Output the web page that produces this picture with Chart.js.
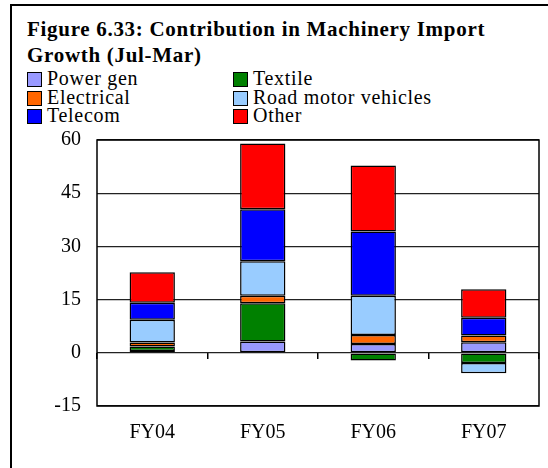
<!DOCTYPE html>
<html>
<head>
<meta charset="utf-8">
<script src="https://cdn.jsdelivr.net/npm/chart.js@4"></script>
<style>
  html, body { margin: 0; padding: 0; background: #fff; }
  body { width: 548px; height: 468px; position: relative; overflow: hidden; font-family: "Liberation Serif", "Times New Roman", serif; }
  #frame { position: absolute; left: 10px; top: 4px; width: 560px; height: 480px; border: 2px solid #000; box-sizing: border-box; }
  #title { position: absolute; left: 27px; top: 16px; font-family: "Liberation Serif", serif; font-weight: bold; font-size: 21px; line-height: 26px; letter-spacing: 0.7px; color: #000; }
  #legend { position: absolute; left: 27px; top: 70px; width: 470px; }
  .row { height: 18.5px; position: relative; }
  .item { position: absolute; top: 0; height: 18.5px; white-space: nowrap; }
  .swatch { position: absolute; left: 0; top: 2px; width: 13px; height: 13px; border: 1.5px solid #000; }
  .text { position: absolute; left: 20px; top: -3px; font-family: "Liberation Serif", "Times New Roman", serif; font-weight: normal; font-size: 20px; line-height: 22px; letter-spacing: 0.7px; color: #000; }
  #wrap { position: absolute; left: 0; top: 0; width: 548px; height: 468px; }
</style>
</head>
<body>
<div id="frame"></div>
<div id="title">Figure 6.33: Contribution in Machinery Import<br>Growth (Jul-Mar)</div>
<div id="legend"></div>
<div id="wrap"><canvas id="importChart" width="548" height="468"></canvas></div>
<script>
const years = ["FY04", "FY05", "FY06", "FY07"];

const powerGen = [0.5, 3.2, 2.5, 3.0];
const textile = [1.3, 10.8, -2.2, -2.9];
const electrical = [1.1, 2.1, 2.5, 1.9];
const roadVehicles = [6.4, 9.7, 11.1, -2.9];
const telecom = [4.8, 14.7, 18.1, 5.0];
const other = [8.6, 18.5, 18.6, 8.0];

const yTicks = [-15, 0, 15, 30, 45, 60];

const series = [
  { label: "Power gen", data: powerGen, color: "#9999ff" },
  { label: "Textile", data: textile, color: "#008000" },
  { label: "Electrical", data: electrical, color: "#ff6600" },
  { label: "Road motor vehicles", data: roadVehicles, color: "#99ccff" },
  { label: "Telecom", data: telecom, color: "#0000ff" },
  { label: "Other", data: other, color: "#ff0000" }
];

// legend: three rows of two items, in dataset order
const legend = document.getElementById("legend");
for (let r = 0; r < 3; r++) {
  const row = document.createElement("div");
  row.className = "row";
  [0, 1].forEach(c => {
    const s = series[r * 2 + c];
    const item = document.createElement("div");
    item.className = "item";
    item.style.left = c === 0 ? "0px" : "206px";
    const sw = document.createElement("span");
    sw.className = "swatch";
    sw.style.background = s.color;
    const tx = document.createElement("span");
    tx.className = "text";
    tx.textContent = s.label;
    item.appendChild(sw);
    item.appendChild(tx);
    row.appendChild(item);
  });
  legend.appendChild(row);
}

// frame around the plot area
const plotFrame = {
  id: "plotFrame",
  afterDraw(chart) {
    const { ctx, chartArea } = chart;
    ctx.save();
    ctx.strokeStyle = "#000";
    ctx.lineWidth = 1.5;
    ctx.strokeRect(chartArea.left, chartArea.top, chartArea.right - chartArea.left, chartArea.bottom - chartArea.top);
    ctx.restore();
  }
};

const font = { family: "'Liberation Serif', 'Times New Roman', serif", size: 20 };

new Chart(document.getElementById("importChart"), {
  type: "bar",
  data: {
    labels: years,
    datasets: series.map(s => ({
      label: s.label,
      data: s.data,
      backgroundColor: s.color,
      borderColor: "#000",
      borderWidth: 1.5,
      borderSkipped: false,
      barPercentage: 0.41,
      categoryPercentage: 1
    }))
  },
  options: {
    responsive: false,
    animation: false,
    layout: { padding: { top: 140, right: 9, left: 0, bottom: 0 } },
    plugins: {
      legend: { display: false },
      tooltip: { enabled: false }
    },
    scales: {
      x: {
        stacked: true,
        grid: { display: false },
        border: { display: false },
        ticks: { color: "#000", font: font, padding: 7, maxRotation: 0 },
        afterFit(scale) { scale.height = 62; }
      },
      xZero: {
        type: "category",
        position: { y: 0 },
        grid: { offset: true, drawOnChartArea: false, drawTicks: true, tickLength: 6, color: "#000", lineWidth: 1.5 },
        border: { display: false },
        ticks: { display: false }
      },
      y: {
        stacked: true,
        min: -15,
        max: 60,
        afterBuildTicks(scale) { scale.ticks = yTicks.map(v => ({ value: v })); },
        grid: { color: "#222", lineWidth: 1.3, drawTicks: false },
        border: { display: false },
        ticks: { color: "#000", font: font, padding: 16 },
        afterFit(scale) { scale.width = 97; }
      }
    }
  },
  plugins: [plotFrame]
});
</script>
</body>
</html>
